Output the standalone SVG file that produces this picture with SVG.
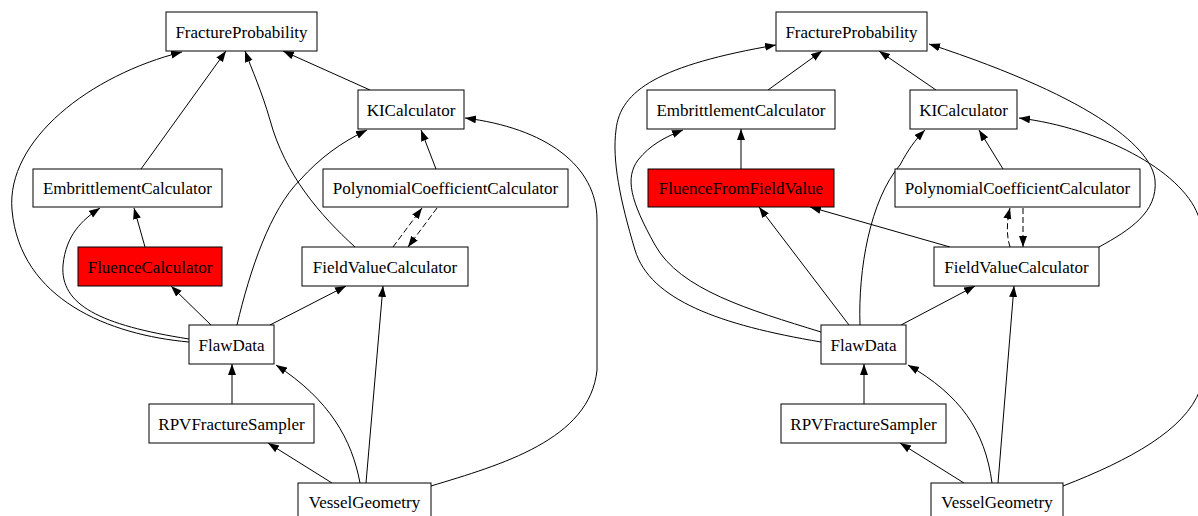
<svg xmlns="http://www.w3.org/2000/svg" width="1198" height="516" viewBox="0 0 1198 516">
<style>
.n rect{fill:#fff;stroke:#000;stroke-width:1}
.n.red rect{fill:#ff0000}
.n text{font-family:"Liberation Serif","Times New Roman",serif;font-size:17px;fill:#000;text-anchor:middle}
.e path{fill:none;stroke:#000;stroke-width:1;marker-end:url(#arr)}
.e path.d{stroke-dasharray:6,3}
</style>
<defs>
<marker id="arr" markerUnits="userSpaceOnUse" markerWidth="12" markerHeight="9" refX="11" refY="4" orient="auto">
<path d="M0,0 L11,4 L0,8 z" fill="#000"/>
</marker>
</defs>
<rect width="1198" height="516" fill="#fff"/>
<g id="edges" class="e">
<!-- left graph -->
<path d="M141,169 L226,51"/>
<path d="M370,90 L283,51"/>
<path d="M355,247 C320,215 285,175 270,120 C262,92 252,70 245,51"/>
<path d="M189,342 C110,335 20,300 12,210 C6,140 90,75 182,52"/>
<path d="M189,339 C100,325 60,305 63,265 C66,235 82,220 100,208"/>
<path d="M145,247 L134,208"/>
<path d="M211,325 L171,286"/>
<path d="M270,325 L346,286"/>
<path d="M237,325 C250,270 270,210 300,180 C320,158 340,143 367,130"/>
<path d="M436,169 L421,130"/>
<path class="d" d="M393,247 L422,208"/>
<path class="d" d="M437,208 L408,247"/>
<path d="M232,404 L232,364"/>
<path d="M360,483 C352,440 330,400 276,365"/>
<path d="M332,483 L268,443"/>
<path d="M366,483 L383,286"/>
<path d="M431,486 C500,465 590,440 597,370 L597,220 C597,165 545,128 465,118"/>
<!-- right graph -->
<path d="M768,90 L822,51"/>
<path d="M936,90 L879,51"/>
<path d="M821,342 C720,325 650,300 635,250 C620,200 612,160 616,130 C620,90 660,65 776,45"/>
<path d="M821,332 C750,310 680,290 655,245 C630,200 625,178 638,160 C650,145 665,137 683,130"/>
<path d="M741,169 L741,129"/>
<path d="M849,325 L759,207"/>
<path d="M950,247 L810,207"/>
<path d="M860,325 C858,270 870,200 900,165 C908,150 915,140 925,130"/>
<path d="M1003,169 L979,130"/>
<path d="M1099,247 C1130,230 1158,212 1155,180 C1152,150 1100,100 929,44"/>
<path class="d" d="M1010,247 C1006,235 1007,220 1010,208"/>
<path class="d" d="M1023,208 L1023,247"/>
<path d="M901,325 L975,286"/>
<path d="M864,404 L864,364"/>
<path d="M992,483 C985,430 960,395 908,365"/>
<path d="M964,483 L900,443"/>
<path d="M998,483 L1014,286"/>
<path d="M1063,486 C1130,460 1185,430 1200,390 C1215,350 1215,260 1198,215 C1181,170 1100,128 1019,118"/>
</g>
<!-- left graph nodes -->
<g id="L_FractureProbability" class="n"><rect x="166" y="12" width="151" height="39"/><text x="241.5" y="37.5">FractureProbability</text></g>
<g id="L_KICalculator" class="n"><rect x="358" y="90" width="106" height="39"/><text x="411" y="115.5">KICalculator</text></g>
<g id="L_EmbrittlementCalculator" class="n"><rect x="33" y="169" width="189" height="38"/><text x="127.5" y="194">EmbrittlementCalculator</text></g>
<g id="L_PolynomialCoefficientCalculator" class="n"><rect x="323" y="169" width="245" height="38"/><text x="445.5" y="194">PolynomialCoefficientCalculator</text></g>
<g id="L_FluenceCalculator" class="n red"><rect x="78" y="247" width="144" height="39"/><text x="150" y="272.5">FluenceCalculator</text></g>
<g id="L_FieldValueCalculator" class="n"><rect x="302" y="247" width="166" height="39"/><text x="385" y="272.5">FieldValueCalculator</text></g>
<g id="L_FlawData" class="n"><rect x="189" y="325" width="85" height="39"/><text x="231.5" y="350.5">FlawData</text></g>
<g id="L_RPVFractureSampler" class="n"><rect x="149" y="404" width="165" height="39"/><text x="231.5" y="429.5">RPVFractureSampler</text></g>
<g id="L_VesselGeometry" class="n"><rect x="298" y="483" width="133" height="39"/><text x="364.5" y="508">VesselGeometry</text></g>
<!-- right graph nodes -->
<g id="R_FractureProbability" class="n"><rect x="776" y="12" width="151" height="39"/><text x="851.5" y="37.5">FractureProbability</text></g>
<g id="R_EmbrittlementCalculator" class="n"><rect x="647" y="90" width="188" height="39"/><text x="741" y="115.5">EmbrittlementCalculator</text></g>
<g id="R_KICalculator" class="n"><rect x="910" y="90" width="107" height="39"/><text x="963.5" y="115.5">KICalculator</text></g>
<g id="R_FluenceFromFieldValue" class="n red"><rect x="648" y="169" width="186" height="38"/><text x="741" y="194">FluenceFromFieldValue</text></g>
<g id="R_PolynomialCoefficientCalculator" class="n"><rect x="895" y="169" width="245" height="38"/><text x="1017.5" y="194">PolynomialCoefficientCalculator</text></g>
<g id="R_FieldValueCalculator" class="n"><rect x="934" y="247" width="165" height="39"/><text x="1016.5" y="272.5">FieldValueCalculator</text></g>
<g id="R_FlawData" class="n"><rect x="821" y="325" width="85" height="39"/><text x="863.5" y="350.5">FlawData</text></g>
<g id="R_RPVFractureSampler" class="n"><rect x="781" y="404" width="165" height="39"/><text x="863.5" y="429.5">RPVFractureSampler</text></g>
<g id="R_VesselGeometry" class="n"><rect x="931" y="483" width="132" height="39"/><text x="997" y="508">VesselGeometry</text></g>
</svg>
